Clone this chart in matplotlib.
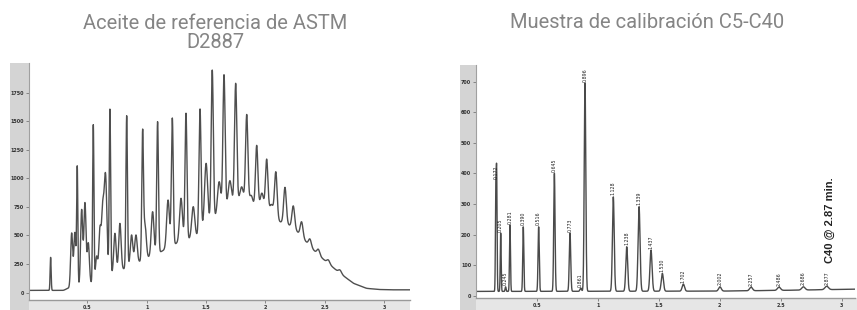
import numpy as np
import matplotlib.pyplot as plt

hump_x = [0.0, 0.30, 0.34, 0.42, 0.55, 0.85, 1.10, 1.25, 1.42, 1.50, 1.60, 1.70, 1.78,
          1.88, 1.98, 2.07, 2.12, 2.18, 2.234, 2.304, 2.374, 2.445, 2.529, 2.627, 2.74,
          2.85, 2.95, 3.05, 3.25]
hump_y = [20, 20, 40, 50, 85, 227, 347, 431, 490, 580, 680, 760, 800,
          750, 694, 660, 620, 600, 570, 490, 405, 330, 255, 170, 82,
          38, 28, 25, 25]

# picos n-parafina (altos)
d2887_rt = [0.192, 0.416, 0.551, 0.691, 0.832, 0.966, 1.092, 1.216, 1.331, 1.449,
            1.552, 1.651, 1.749, 1.842, 1.926, 2.010, 2.087, 2.164, 2.234, 2.304,
            2.374, 2.445, 2.529, 2.627]
d2887_h = [309, 1078, 1466, 1603, 1547, 1372, 1495, 1524, 1568, 1606,
           1946, 1903, 1830, 1553, 1285, 1160, 1052, 921, 760, 620,
           469, 379, 286, 198]

# picos intermedios (no resueltos)
d2887_rt2 = [0.369, 0.396, 0.453, 0.481, 0.509, 0.579, 0.607, 0.630, 0.649, 0.660,
             0.733, 0.775, 0.873, 0.910, 0.986, 1.050, 1.180, 1.289, 1.392, 1.500,
             1.610, 1.700, 1.800, 1.880, 1.970, 2.050]
d2887_h2 = [519, 524, 723, 781, 432, 315, 548, 694, 700, 612,
            519, 606, 504, 504, 592, 708, 810, 825, 752, 1131,
            970, 980, 925, 850, 870, 770]

left_yticks = [0, 250, 500, 750, 1000, 1250, 1500, 1750]
left_xticks = [0.5, 1, 1.5, 2, 2.5, 3]

# --- muestra de calibración C5-C40 (derecha) ---
cal_rt = [0.165, 0.172, 0.205, 0.245, 0.281, 0.390, 0.516, 0.645, 0.773, 0.861,
          0.896, 1.128, 1.238, 1.339, 1.437, 1.530, 1.702, 2.002, 2.257, 2.486,
          2.686, 2.877]
cal_h = [323, 378, 205, 29, 231, 225, 225, 400, 204, 25,
         695, 323, 160, 291, 149, 73, 38, 29, 28, 28,
         29, 31]
cal_base_x = [0.0, 2.0, 2.6, 3.2]
cal_base_y = [14, 15, 18, 22]

right_yticks = [0, 100, 200, 300, 400, 500, 600, 700]
right_xticks = [0.5, 1, 1.5, 2, 2.5, 3]


def gauss(x, c, s):
    return np.exp(-0.5 * ((x - c) / s) ** 2)


W, H = 857, 310
fig = plt.figure(figsize=(W / 100, H / 100), dpi=100)
plt.rcParams['font.family'] = ['Roboto', 'DejaVu Sans']

# franjas grises detrás de los ejes (ejes vacíos de fondo)
for (x0, y0, w, h, c) in [(10, 0, 400, 10, '#e6e6e6'), (10, 0, 19, H - 63, '#d4d4d4'),
                          (460, 0, 397, 12, '#e6e6e6'), (460, 0, 16, H - 65, '#d4d4d4')]:
    bg = fig.add_axes([x0 / W, y0 / H, w / W, h / H], zorder=-1)
    bg.set_facecolor(c)
    bg.set_xticks([])
    bg.set_yticks([])
    for sp in bg.spines.values():
        sp.set_visible(False)

# ---------------- izquierda ----------------
ax1 = fig.add_axes([29 / W, 10 / H, 381 / W, 237 / H])
x = np.linspace(0, 3.25, 6000)
hump = np.interp(x, hump_x, hump_y)
k = gauss(np.linspace(-0.05, 0.05, 61), 0, 0.02)
hump = np.convolve(hump, k / k.sum(), mode='same')
hump[:40] = 20
hump[-40:] = 25
y = hump.copy()
hump_at = lambda t: np.interp(t, hump_x, hump_y)
for rt, h in zip(d2887_rt, d2887_h):
    y += (h - hump_at(rt)) * gauss(x, rt, 0.0035 + 0.0035 * rt)
for rt, h in zip(d2887_rt2, d2887_h2):
    y += (h - hump_at(rt)) * gauss(x, rt, 0.007 + 0.004 * rt)
ax1.plot(x, y, color='#4f4f4f', lw=1.0)
ax1.set_xlim(0.01, 3.216)
ax1.set_ylim(-64, 2008)
ax1.set_yticks(left_yticks)
ax1.set_yticklabels([str(v) for v in left_yticks])
ax1.set_xticks(left_xticks)
ax1.set_xticklabels([str(v) for v in left_xticks])

# ---------------- derecha ----------------
ax2 = fig.add_axes([476 / W, 12 / H, 379 / W, 233 / H])
x2 = np.linspace(0, 3.2, 8000)
y2 = np.interp(x2, cal_base_x, cal_base_y)
for rt, h in zip(cal_rt, cal_h):
    s = 0.0028 + 0.004 * rt
    y2 += (h - np.interp(rt, cal_base_x, cal_base_y)) * gauss(x2, rt, s)
ax2.plot(x2, y2, color='#4a4a4a', lw=1.0)
for rt, h in zip(cal_rt, cal_h):
    if rt in (0.165,):
        continue
    ax2.annotate(f'{rt:.3f}', (rt, h), xytext=(0, 1), textcoords='offset points',
                 rotation=90, ha='center', va='bottom', fontsize=3.4,
                 color='#222222', family='DejaVu Sans')
ax2.set_xlim(0.0025, 3.109)
ax2.set_ylim(-7.5, 754)
ax2.set_yticks(right_yticks)
ax2.set_yticklabels([str(v) for v in right_yticks])
ax2.set_xticks(right_xticks)
ax2.set_xticklabels([str(v) for v in right_xticks])
ax2.text(2.9, 247, 'C40 @ 2.87 min.', rotation=90, ha='center', va='center',
         fontsize=8, color='#222222', family='Liberation Sans', fontweight='bold')

for ax in (ax1, ax2):
    ax.set_facecolor('none')
    for side in ('top', 'right'):
        ax.spines[side].set_visible(False)
    ax.spines['left'].set_color('#a0a0a0')
    ax.spines['bottom'].set_color('#9a9a9a')
    ax.spines['bottom'].set_linewidth(1.0)
    ax.tick_params(axis='both', length=2, width=0.6, color='#777777', pad=1.5,
                   labelsize=3.5, labelcolor='#333333')
    for lbl in ax.get_yticklabels() + ax.get_xticklabels():
        lbl.set_family('DejaVu Sans')
        lbl.set_fontweight('bold')

fig.text(215 / W, 1 - 33 / H, 'Aceite de referencia de ASTM\nD2887', ha='center', va='center',
         fontsize=14.5, color='#858585', linespacing=1.05)
fig.text(647 / W, 1 - 23 / H, 'Muestra de calibración C5-C40', ha='center', va='center',
         fontsize=14.5, color='#858585')

fig.savefig('out.png', dpi=100)
